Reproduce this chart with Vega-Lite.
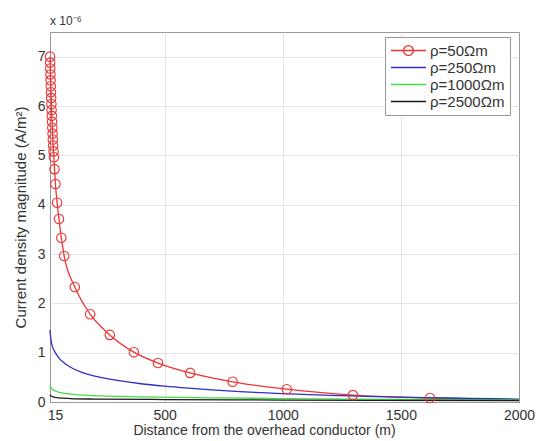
{
  "$schema": "https://vega.github.io/schema/vega-lite/v6.json",
  "width": 469,
  "height": 370,
  "autosize": {"type": "none"},
  "padding": {"left": 50, "top": 32, "right": 19, "bottom": 39},
  "background": "white",
  "config": {
    "font": "Liberation Sans",
    "view": {"stroke": "#999", "strokeWidth": 1},
    "axis": {"labelFont": "Liberation Sans", "titleFont": "Liberation Sans", "labelFontSize": 14, "titleFontSize": 14, "titleFontWeight": "normal", "labelColor": "#333", "titleColor": "#333", "gridWidth": 1, "ticks": false, "domain": false}
  },
  "title": {"text": "x 10⁻⁶", "anchor": "start", "fontSize": 12, "fontWeight": "normal", "font": "Liberation Sans", "color": "#333", "offset": 4, "frame": "group"},
  "datasets": {
    "curves": [
      {"x": 15, "y": 7.0, "rho": "ρ=50Ωm"},
      {"x": 15.6, "y": 6.88, "rho": "ρ=50Ωm"},
      {"x": 16.2, "y": 6.76, "rho": "ρ=50Ωm"},
      {"x": 16.9, "y": 6.64, "rho": "ρ=50Ωm"},
      {"x": 17.6, "y": 6.52, "rho": "ρ=50Ωm"},
      {"x": 18.3, "y": 6.4, "rho": "ρ=50Ωm"},
      {"x": 19.1, "y": 6.28, "rho": "ρ=50Ωm"},
      {"x": 19.9, "y": 6.16, "rho": "ρ=50Ωm"},
      {"x": 20.8, "y": 6.04, "rho": "ρ=50Ωm"},
      {"x": 21.7, "y": 5.92, "rho": "ρ=50Ωm"},
      {"x": 22.7, "y": 5.8, "rho": "ρ=50Ωm"},
      {"x": 23.7, "y": 5.68, "rho": "ρ=50Ωm"},
      {"x": 24.8, "y": 5.56, "rho": "ρ=50Ωm"},
      {"x": 25.9, "y": 5.44, "rho": "ρ=50Ωm"},
      {"x": 27.1, "y": 5.32, "rho": "ρ=50Ωm"},
      {"x": 28.4, "y": 5.2, "rho": "ρ=50Ωm"},
      {"x": 29.8, "y": 5.08, "rho": "ρ=50Ωm"},
      {"x": 31.5, "y": 4.96, "rho": "ρ=50Ωm"},
      {"x": 34, "y": 4.72, "rho": "ρ=50Ωm"},
      {"x": 38, "y": 4.42, "rho": "ρ=50Ωm"},
      {"x": 45, "y": 4.04, "rho": "ρ=50Ωm"},
      {"x": 53, "y": 3.71, "rho": "ρ=50Ωm"},
      {"x": 63, "y": 3.33, "rho": "ρ=50Ωm"},
      {"x": 75, "y": 2.96, "rho": "ρ=50Ωm"},
      {"x": 120, "y": 2.33, "rho": "ρ=50Ωm"},
      {"x": 185, "y": 1.78, "rho": "ρ=50Ωm"},
      {"x": 268, "y": 1.36, "rho": "ρ=50Ωm"},
      {"x": 370, "y": 1.01, "rho": "ρ=50Ωm"},
      {"x": 472, "y": 0.79, "rho": "ρ=50Ωm"},
      {"x": 608, "y": 0.59, "rho": "ρ=50Ωm"},
      {"x": 788, "y": 0.41, "rho": "ρ=50Ωm"},
      {"x": 1017, "y": 0.26, "rho": "ρ=50Ωm"},
      {"x": 1297, "y": 0.14, "rho": "ρ=50Ωm"},
      {"x": 1623, "y": 0.08, "rho": "ρ=50Ωm"},
      {"x": 2000, "y": 0.04, "rho": "ρ=50Ωm"},
      {"x": 15, "y": 1.46, "rho": "ρ=250Ωm"},
      {"x": 18, "y": 1.3, "rho": "ρ=250Ωm"},
      {"x": 22, "y": 1.18, "rho": "ρ=250Ωm"},
      {"x": 30, "y": 1.07, "rho": "ρ=250Ωm"},
      {"x": 40, "y": 0.98, "rho": "ρ=250Ωm"},
      {"x": 55, "y": 0.88, "rho": "ρ=250Ωm"},
      {"x": 75, "y": 0.79, "rho": "ρ=250Ωm"},
      {"x": 100, "y": 0.71, "rho": "ρ=250Ωm"},
      {"x": 150, "y": 0.6, "rho": "ρ=250Ωm"},
      {"x": 200, "y": 0.53, "rho": "ρ=250Ωm"},
      {"x": 300, "y": 0.44, "rho": "ρ=250Ωm"},
      {"x": 400, "y": 0.37, "rho": "ρ=250Ωm"},
      {"x": 500, "y": 0.32, "rho": "ρ=250Ωm"},
      {"x": 600, "y": 0.28, "rho": "ρ=250Ωm"},
      {"x": 700, "y": 0.245, "rho": "ρ=250Ωm"},
      {"x": 800, "y": 0.215, "rho": "ρ=250Ωm"},
      {"x": 1000, "y": 0.17, "rho": "ρ=250Ωm"},
      {"x": 1200, "y": 0.135, "rho": "ρ=250Ωm"},
      {"x": 1400, "y": 0.11, "rho": "ρ=250Ωm"},
      {"x": 1600, "y": 0.09, "rho": "ρ=250Ωm"},
      {"x": 1800, "y": 0.075, "rho": "ρ=250Ωm"},
      {"x": 2000, "y": 0.06, "rho": "ρ=250Ωm"},
      {"x": 15, "y": 0.34, "rho": "ρ=1000Ωm"},
      {"x": 18, "y": 0.3, "rho": "ρ=1000Ωm"},
      {"x": 25, "y": 0.26, "rho": "ρ=1000Ωm"},
      {"x": 35, "y": 0.23, "rho": "ρ=1000Ωm"},
      {"x": 50, "y": 0.2, "rho": "ρ=1000Ωm"},
      {"x": 75, "y": 0.175, "rho": "ρ=1000Ωm"},
      {"x": 100, "y": 0.16, "rho": "ρ=1000Ωm"},
      {"x": 200, "y": 0.13, "rho": "ρ=1000Ωm"},
      {"x": 400, "y": 0.105, "rho": "ρ=1000Ωm"},
      {"x": 700, "y": 0.085, "rho": "ρ=1000Ωm"},
      {"x": 1000, "y": 0.07, "rho": "ρ=1000Ωm"},
      {"x": 1500, "y": 0.055, "rho": "ρ=1000Ωm"},
      {"x": 2000, "y": 0.045, "rho": "ρ=1000Ωm"},
      {"x": 15, "y": 0.15, "rho": "ρ=2500Ωm"},
      {"x": 20, "y": 0.12, "rho": "ρ=2500Ωm"},
      {"x": 30, "y": 0.1, "rho": "ρ=2500Ωm"},
      {"x": 50, "y": 0.085, "rho": "ρ=2500Ωm"},
      {"x": 100, "y": 0.07, "rho": "ρ=2500Ωm"},
      {"x": 200, "y": 0.06, "rho": "ρ=2500Ωm"},
      {"x": 500, "y": 0.05, "rho": "ρ=2500Ωm"},
      {"x": 1000, "y": 0.04, "rho": "ρ=2500Ωm"},
      {"x": 2000, "y": 0.03, "rho": "ρ=2500Ωm"}
    ]
  },
  "data": {"name": "curves"},
  "encoding": {
    "x": {"field": "x", "type": "quantitative", "scale": {"domain": [15, 2000], "nice": false, "zero": false},
      "axis": {"values": [15, 500, 1000, 1500, 2000], "title": "Distance from the overhead conductor (m)", "labelFlush": false, "labelPadding": 6, "titlePadding": 1, "format": "d", "titleX": 214,
        "labelOffset": {"condition": {"test": "datum.value === 15", "value": 5}, "value": 0},
        "gridColor": {"condition": {"test": "datum.value === 15 || datum.value === 2000", "value": "#999"}, "value": "#e4e4e4"}}},
    "y": {"field": "y", "type": "quantitative", "scale": {"domain": [0, 7.5], "nice": false},
      "axis": {"values": [0, 1, 2, 3, 4, 5, 6, 7], "title": "Current density magnitude (A/m²)", "titleFontSize": 15, "labelPadding": 5, "titlePadding": 9, "format": "d",
        "gridColor": {"condition": {"test": "datum.value === 0", "value": "#999"}, "value": "#e4e4e4"}}}
  },
  "layer": [
    {
      "mark": {"type": "line", "strokeWidth": 1.3, "interpolate": "monotone"},
      "encoding": {
        "color": {"field": "rho", "type": "nominal",
          "scale": {"domain": ["ρ=50Ωm", "ρ=250Ωm", "ρ=1000Ωm", "ρ=2500Ωm"], "range": ["#ee3333", "#2e2ecc", "#44dd44", "#1a1a1a"]},
          "legend": {"orient": "none", "legendX": 335, "legendY": 5, "title": null, "fillColor": "white", "strokeColor": "#999", "padding": 5,
            "labelFont": "Liberation Sans", "labelFontSize": 15, "labelColor": "#333", "labelOffset": 3,
            "symbolType": "stroke", "symbolSize": 1225, "symbolStrokeWidth": 1.3, "clipHeight": 17, "rowPadding": 0, "symbolOffset": 0,
            "encode": {"symbols": {"update": {"shape": [{"test": "datum.value === 'ρ=50Ωm'", "value": "M-1,0H1M-0.28,0A0.28,0.28 0 1,0 0.28,0A0.28,0.28 0 1,0 -0.28,0"}, {"value": "stroke"}]}}}}
        }
      }
    },
    {
      "transform": [{"filter": "datum.rho === 'ρ=50Ωm' && datum.x < 1900"}],
      "mark": {"type": "point", "shape": "circle", "filled": false, "stroke": "#ee3333", "strokeWidth": 1.1, "size": 90, "opacity": 1}
    }
  ]
}
